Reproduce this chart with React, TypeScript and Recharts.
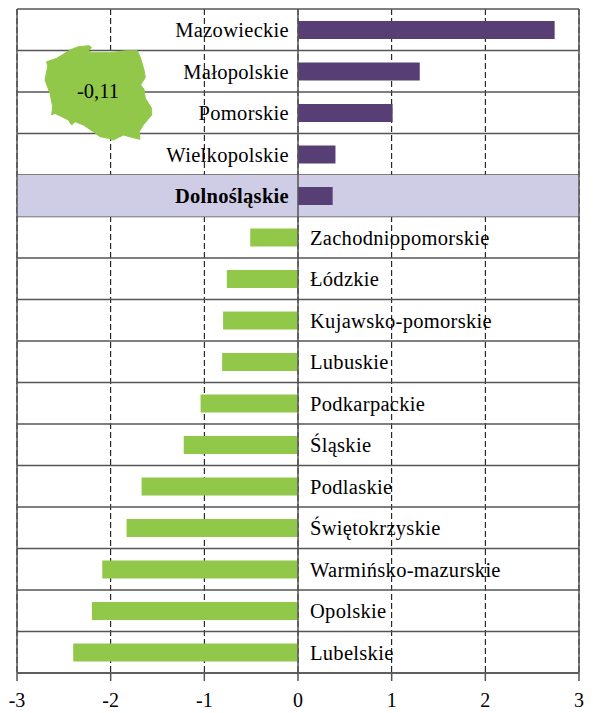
import React from 'react';
import {
  BarChart,
  Bar,
  Cell,
  XAxis,
  YAxis,
  CartesianGrid,
  ReferenceArea,
  ReferenceLine,
  LabelList,
} from 'recharts';

const FONT = '"Liberation Serif", "Times New Roman", serif';
const PURPLE = '#573E74';
const GREEN = '#92C84A';
const LINE = '#555555';
const HIGHLIGHT = 'Dolnośląskie';

const regions = [
  'Mazowieckie', 'Małopolskie', 'Pomorskie', 'Wielkopolskie', 'Dolnośląskie',
  'Zachodniopomorskie', 'Łódzkie', 'Kujawsko-pomorskie', 'Lubuskie', 'Podkarpackie',
  'Śląskie', 'Podlaskie', 'Świętokrzyskie', 'Warmińsko-mazurskie', 'Opolskie', 'Lubelskie',
];
const values = [
  2.74, 1.3, 1.01, 0.4, 0.37,
  -0.51, -0.76, -0.8, -0.81, -1.04,
  -1.22, -1.67, -1.83, -2.09, -2.2, -2.4,
];
const xTicks = [-3, -2, -1, 0, 1, 2, 3];
const polandAverage = '-0,11';

// outline of the country (decoration, not data)
const polandOutline =
  'M210 150 L235 140 L268 137 L275 143 L265 152 L275 158 L330 158 L380 152 L412 152 L422 175 L432 210 L436 232 L422 255 L432 268 L436 295 L455 325 L455 345 L430 375 L418 395 L420 418 L395 412 L370 405 L340 420 L325 415 L300 410 L280 395 L250 375 L225 365 L215 375 L205 360 L185 350 L165 340 L155 345 L158 320 L150 280 L135 240 L143 200 L140 185 L170 175 Z';

const data = regions.map((name, i) => ({ name, value: values[i] }));

const RegionLabel = (props: any) => {
  const { x, y, width, height, index } = props;
  const row = data[index];
  const zero = row.value < 0 && width > 0 ? x + width : x;
  const positive = row.value >= 0;
  return (
    <text
      x={positive ? zero - 9 : zero + 12}
      y={y + height / 2 + 2.5}
      textAnchor={positive ? 'end' : 'start'}
      dominantBaseline="middle"
      fontFamily={FONT}
      fontSize={20.5}
      letterSpacing={0.3}
      fontWeight={row.name === HIGHLIGHT ? 'bold' : 'normal'}
      fill="#000"
    >
      {row.name}
    </text>
  );
};

const rowLines = ({ offset }: any) =>
  [...regions, ''].map((_, i) => offset.top + (i * offset.height) / regions.length);

export default function App() {
  return (
    <div style={{ position: 'absolute', left: 0, top: 0 }}>
      <BarChart
        width={593}
        height={713}
        data={data}
        layout="vertical"
        margin={{ top: 9, right: 14, bottom: 0, left: 17 }}
        barSize={18}
      >
        <CartesianGrid horizontal={false} stroke="#000" strokeDasharray="6 3" />
        <ReferenceArea y1={HIGHLIGHT} y2={HIGHLIGHT} fill="#CFCCE5" fillOpacity={1} stroke="none" />
        <CartesianGrid
          vertical={false}
          stroke={LINE}
          strokeWidth={1.5}
          horizontalCoordinatesGenerator={rowLines}
        />
        <XAxis
          type="number"
          domain={[-3, 3]}
          ticks={xTicks}
          height={40}
          interval={0}
          tickSize={8}
          tickMargin={12}
          axisLine={{ stroke: LINE, strokeWidth: 1.5 }}
          tickLine={{ stroke: LINE, strokeWidth: 1.5 }}
          tick={{ fontFamily: FONT, fontSize: 20, fill: '#000' }}
        />
        <YAxis type="category" dataKey="name" hide width={0} />
        <ReferenceLine x={-3} stroke={LINE} strokeWidth={1.5} />
        <ReferenceLine x={3} stroke={LINE} strokeWidth={1.5} />
        <Bar dataKey="value" isAnimationActive={false}>
          {data.map((d) => (
            <Cell key={d.name} fill={d.value >= 0 ? PURPLE : GREEN} />
          ))}
          <LabelList dataKey="name" content={RegionLabel} />
        </Bar>
        <ReferenceLine x={0} stroke={LINE} strokeWidth={1.5} />
        <g>
          <path d={polandOutline} transform="scale(0.3333)" fill={GREEN} stroke={GREEN} strokeWidth={3} strokeLinejoin="round" />
          <text x={98} y={93} textAnchor="middle" dominantBaseline="middle" fontFamily={FONT} fontSize={20.5} fill="#000">
            {polandAverage}
          </text>
        </g>
      </BarChart>
    </div>
  );
}
